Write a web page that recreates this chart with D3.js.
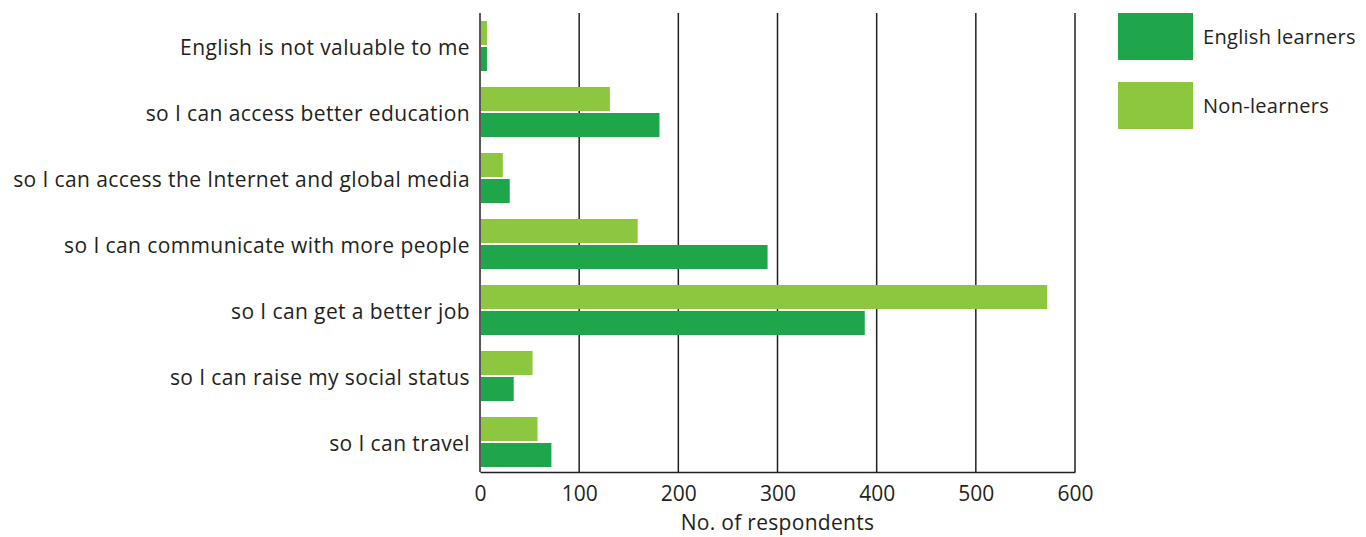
<!DOCTYPE html>
<html>
<head>
<meta charset="utf-8">
<script src="https://cdn.jsdelivr.net/npm/d3@7"></script>
<style>
  body { margin: 0; background: #fff; }
  svg text { font-family: "Open Sans", Roboto, sans-serif; fill: #231f20; }
</style>
</head>
<body>
<svg id="chart" width="1366" height="537"></svg>
<script>
var categories = [
  'English is not valuable to me',
  'so I can access better education',
  'so I can access the Internet and global media',
  'so I can communicate with more people',
  'so I can get a better job',
  'so I can raise my social status',
  'so I can travel'
];
var learners = [7, 181, 30, 290, 388, 34, 72];
var nonLearners = [7, 131, 23, 159, 572, 53, 58];
var ticks = [0, 100, 200, 300, 400, 500, 600];
var seriesNames = ['English learners', 'Non-learners'];
var colors = ['#1fa64a', '#8dc63f'];

var svg = d3.select('#chart');
var margin = { top: 13, left: 480, right: 291, bottom: 65 },
  width = 1366 - margin.left - margin.right,
  height = 537 - margin.top - margin.bottom;

var x = d3.scaleLinear().domain([0, 600]).range([0, width]);
var y = d3.scaleBand().domain(categories).range([0, height + 3]);

var g = svg.append('g')
  .attr('transform', 'translate(' + margin.left + ',' + margin.top + ')');

// gridlines
g.selectAll('.grid')
  .data(ticks)
  .enter().append('line')
  .attr('x1', function (d) { return x(d); })
  .attr('x2', function (d) { return x(d); })
  .attr('y1', 0)
  .attr('y2', height)
  .attr('stroke', '#231f20')
  .attr('stroke-width', 1.5);

// bars
var barH = 24, gap = 2;
var rows = categories.map(function (c, i) {
  return { cat: c, learners: learners[i], non: nonLearners[i] };
});

g.selectAll('.bar.non')
  .data(rows)
  .enter().append('rect')
  .attr('class', 'bar non')
  .attr('x', x(0) + 1)
  .attr('y', function (d) { return y(d.cat) + y.bandwidth() / 2 - barH - gap / 2; })
  .attr('width', function (d) { return x(d.non) - 1; })
  .attr('height', barH)
  .attr('fill', colors[1]);

g.selectAll('.bar.learn')
  .data(rows)
  .enter().append('rect')
  .attr('class', 'bar learn')
  .attr('x', x(0) + 1)
  .attr('y', function (d) { return y(d.cat) + y.bandwidth() / 2 + gap / 2; })
  .attr('width', function (d) { return x(d.learners) - 1; })
  .attr('height', barH)
  .attr('fill', colors[0]);

// bottom axis
var xAxis = d3.axisBottom(x).tickValues(ticks).tickSize(0).tickPadding(14);
var ax = g.append('g')
  .attr('transform', 'translate(0,' + height + ')')
  .call(xAxis);
ax.select('.domain').attr('stroke', '#231f20').attr('stroke-width', 1.5);
ax.selectAll('text').style('font-size', '21px').attr('fill', '#231f20');

// category labels
g.selectAll('.cat')
  .data(categories)
  .enter().append('text')
  .attr('x', -10)
  .attr('y', function (d) { return y(d) + y.bandwidth() / 2 + 9; })
  .attr('text-anchor', 'end')
  .style('font-size', '21px')
  .style('letter-spacing', '0.4px')
  .text(function (d) { return d; });

// axis title
g.append('text')
  .attr('x', width / 2)
  .attr('y', height + 58)
  .attr('text-anchor', 'middle')
  .style('font-size', '21px')
  .style('letter-spacing', '0.3px')
  .text('No. of respondents');

// legend
var legend = svg.append('g').attr('transform', 'translate(1118,13)');
var items = legend.selectAll('g')
  .data(seriesNames)
  .enter().append('g')
  .attr('transform', function (d, i) { return 'translate(0,' + i * 69 + ')'; });
items.append('rect')
  .attr('width', 75)
  .attr('height', 47)
  .attr('fill', function (d, i) { return colors[i]; });
items.append('text')
  .attr('x', 85)
  .attr('y', 31)
  .style('font-size', '20px')
  .style('letter-spacing', '0.3px')
  .text(function (d) { return d; });
</script>
</body>
</html>
